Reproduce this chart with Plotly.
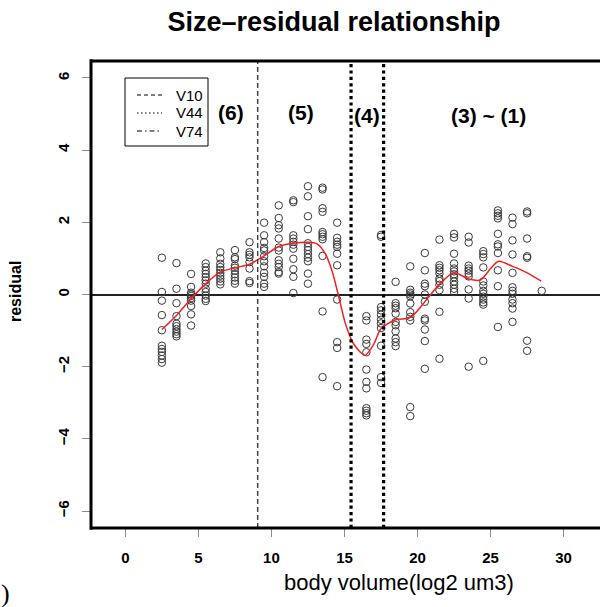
import plotly.graph_objects as go

# ---------------- data ----------------
bin_centers = [2.5, 3.5, 4.5, 5.5, 6.5, 7.5, 8.5, 9.5, 10.5, 11.5, 12.5, 13.5, 14.5,
               16.5, 17.5, 18.5, 19.5, 20.5, 21.5, 22.5, 23.5, 24.5, 25.5, 26.5, 27.5, 28.5]
residuals = [
    [1.02, 0.07, -0.17, -0.57, -0.99, -1.42, -1.51, -1.59, -1.69, -1.79, -1.89],
    [0.87, 0.16, -0.24, -0.6, -0.81, -0.88, -0.96, -1.03, -1.10, -1.16],
    [0.57, 0.21, 0.05, 0.0, -0.04, -0.1, -0.17, -0.32, -0.55, -0.86],
    [0.86, 0.76, 0.66, 0.57, 0.48, 0.39, 0.3, 0.16, 0.07, -0.03, -0.12, -0.18],
    [1.17, 1.0, 0.85, 0.76, 0.68, 0.6, 0.52, 0.44, 0.36, 0.28],
    [1.23, 1.03, 0.98, 0.8, 0.74, 0.66, 0.56, 0.47, 0.38, 0.3],
    [1.45, 1.17, 1.1, 1.03, 0.9, 0.72, 0.37, 0.32],
    [1.99, 1.64, 1.45, 1.29, 1.22, 1.06, 0.92, 0.78, 0.6, 0.49, 0.3, 0.21],
    [2.47, 2.12, 1.92, 1.83, 1.55, 1.3, 1.22, 0.95, 0.85, 0.76, 0.62, 0.58],
    [2.61, 2.56, 1.64, 1.55, 1.46, 1.38, 1.27, 0.99, 0.7, 0.49, 0.04],
    [3.0, 2.72, 2.17, 1.81, 1.42, 1.32, 1.23, 1.12, 1.02, 0.92, 0.58, 0.3],
    [2.96, 2.91, 2.39, 2.29, 1.73, 1.67, 1.6, 1.53, 1.07, -0.47, -2.29],
    [1.99, 1.57, 1.46, 1.38, 1.32, 1.13, 0.81, -0.14, -1.32, -1.48, -2.54],
    [-0.6, -0.72, -1.25, -1.37, -1.6, -2.08, -2.42, -2.6, -3.15, -3.22, -3.29, -3.35],
    [1.65, 1.6, -0.35, -0.44, -0.56, -0.7, -0.8, -0.93, -1.42, -2.29, -2.45],
    [0.35, -0.24, -0.31, -0.38, -0.53, -0.76, -0.85, -1.02, -1.22, -1.32, -1.43],
    [0.78, 0.13, 0.05, 0.0, -0.05, -0.25, -0.49, -0.62, -0.72, -3.12, -3.37],
    [1.15, 0.67, 0.3, 0.23, 0.0, -0.2, -0.67, -0.72, -0.97, -1.29, -2.06],
    [1.52, 0.81, 0.74, 0.67, 0.58, 0.44, 0.37, 0.27, 0.12, -0.48, -1.78],
    [1.68, 1.58, 1.13, 0.86, 0.72, 0.64, 0.56, 0.48, 0.36, 0.27, 0.16, 0.07],
    [1.6, 1.44, 0.8, 0.72, 0.66, 0.58, 0.5, 0.14, -0.11, -2.0],
    [1.2, 1.12, 1.03, 0.75, 0.36, 0.25, 0.1, 0.02, -0.06, -0.14, -0.22, -0.28, -1.84],
    [2.33, 2.25, 2.18, 2.11, 1.68, 1.39, 1.33, 1.15, 0.67, 0.23, -0.9],
    [2.13, 1.95, 1.5, 1.11, 0.6, 0.2, 0.1, 0.02, -0.14, -0.24, -0.39, -0.76],
    [2.3, 2.25, 1.55, 1.06, 1.02, -1.28, -1.56],
    [0.1],
]
loess_x = [2.5, 3.5, 4.5, 5.5, 6.5, 7.5, 8.5, 9.5, 10.5, 11.5, 12.5, 13.1, 13.7, 14.15,
           14.6, 15.06, 15.6, 16.4, 17.0, 17.5, 18.5, 19.5, 20.5, 21.5, 22.5, 23.5,
           24.3, 25.0, 25.55, 26.5, 27.4, 28.47]
loess_y = [-0.97, -0.58, -0.12, 0.3, 0.62, 0.74, 0.84, 1.07, 1.33, 1.42, 1.45, 1.41, 1.12,
           0.65, -0.05, -0.8, -1.35, -1.68, -1.38, -0.95, -0.7, -0.64, -0.2, 0.28, 0.6,
           0.43, 0.4, 0.72, 0.92, 0.78, 0.62, 0.37]
threshold_x = [9.06, 15.45, 17.68]
threshold_names = ["V10", "V44", "V74"]
region_labels = ["(6)", "(5)", "(4)", "(3) ~ (1)"]
x_ticks = [0, 5, 10, 15, 20, 25, 30]
y_ticks = [-6, -4, -2, 0, 2, 4, 6]

# ---------------- layout geometry ----------------
W, H = 600, 607
L, R, T, B = 91, 600, 61, 528
X0, X1 = -2.35, 32.49
Y0, Y1 = -6.47, 6.47
FONT = "Liberation Sans, Arial, Helvetica, sans-serif"


def px(xp, yp):
    return (xp - L) / (R - L), (B - yp) / (B - T)


pts_x = [c for c, ys in zip(bin_centers, residuals) for _ in ys]
pts_y = [v for ys in residuals for v in ys]

fig = go.Figure()
fig.add_trace(go.Scatter(
    x=pts_x, y=pts_y, mode="markers",
    marker=dict(symbol="circle-open", size=7.5, color="#3a3a3a", line=dict(width=1)),
    showlegend=False, hoverinfo="skip"))
fig.add_trace(go.Scatter(
    x=loess_x, y=loess_y, mode="lines", line=dict(color="#f22020", width=1.5, shape="spline", smoothing=0.8),
    showlegend=False, hoverinfo="skip"))

styles = [dict(color="#333333", width=1.3, dash="5px,3px"),
          dict(color="black", width=3.2, dash="dot"),
          dict(color="black", width=3.2, dash="dot")]
for xv, st in zip(threshold_x, styles):
    fig.add_shape(type="line", xref="x", yref="paper", x0=xv, x1=xv, y0=0, y1=1, line=st, layer="above")

# box (left, top, bottom)
for (a, b, c, d) in [(0, -0.004, 0, 1.004), (0, 1, 1.01, 1), (0, 0, 1.01, 0)]:
    fig.add_shape(type="line", xref="paper", yref="paper", x0=a, y0=b, x1=c, y1=d,
                  line=dict(color="black", width=3), layer="above")

# legend box
lx0, ly0 = px(125, 146)
lx1, ly1 = px(208, 78)
fig.add_shape(type="rect", xref="paper", yref="paper", x0=lx0, y0=ly0, x1=lx1, y1=ly1,
              line=dict(color="black", width=1), fillcolor="white", layer="above")
leg_dash = ["4px,3px", "1.5px,2.5px", "5px,3px,1.5px,3px"]
for i, (nm, dsh) in enumerate(zip(threshold_names, leg_dash)):
    yy = 95 + 18 * i
    sx0, sy = px(137, yy)
    sx1, _ = px(162, yy)
    fig.add_shape(type="line", xref="paper", yref="paper", x0=sx0, x1=sx1, y0=sy, y1=sy,
                  line=dict(color="black", width=1, dash=dsh), layer="above")
    tx, ty = px(174, yy)
    fig.add_annotation(x=tx, y=ty, xref="paper", yref="paper", text=nm, showarrow=False,
                       xanchor="left", yanchor="middle", font=dict(family=FONT, size=15, color="black"))

# region labels
for lab, (cx, cy) in zip(region_labels, [(230.7, 113), (300.7, 113), (366.7, 115), (488, 115)]):
    ax, ay = px(cx, cy)
    fig.add_annotation(x=ax, y=ay, xref="paper", yref="paper", text=f"<b>{lab}</b>", showarrow=False,
                       xanchor="center", yanchor="middle", font=dict(family=FONT, size=21, color="black"))

# axis titles
ax, ay = px(399, 582)
fig.add_annotation(x=ax, y=ay, xref="paper", yref="paper", text="body volume(log2 um3)", showarrow=False,
                   xanchor="center", yanchor="middle", font=dict(family=FONT, size=22, color="black"))
ax, ay = px(15, 292)
fig.add_annotation(x=ax, y=ay, xref="paper", yref="paper", text="<b>residual</b>", showarrow=False,
                   textangle=-90, xanchor="center", yanchor="middle", font=dict(family=FONT, size=16, color="black"))
ax, ay = px(5, 593)
fig.add_annotation(x=ax, y=ay, xref="paper", yref="paper", text=")", showarrow=False,
                   xanchor="center", yanchor="middle", font=dict(family="Liberation Serif, serif", size=26, color="black"))

fig.update_layout(
    width=W, height=H,
    margin=dict(l=L, r=W - R, t=T, b=H - B, pad=0),
    plot_bgcolor="white", paper_bgcolor="white",
    title=dict(text="<b>Size\u2013residual relationship</b>", x=334 / W, y=1 - 22 / H,
               xanchor="center", yanchor="middle", xref="container", yref="container",
               font=dict(family=FONT, size=27, color="black")),
    showlegend=False,
    xaxis=dict(range=[X0, X1], tickvals=x_ticks, ticktext=[f"<b>{t}</b>" for t in x_ticks],
               ticks="outside", ticklen=8, tickcolor="#8c8c8c", tickwidth=1,
               showgrid=False, zeroline=False, showline=False,
               tickfont=dict(family=FONT, size=15, color="black"), ticklabelstandoff=8),
    yaxis=dict(range=[Y0, Y1], tickvals=y_ticks,
               ticktext=[f"<b>{t}</b>".replace("-", "\u2212") for t in y_ticks],
               tickangle=-90, ticks="outside", ticklen=8, tickcolor="#8c8c8c", tickwidth=1,
               showgrid=False, zeroline=True, zerolinecolor="#222222", zerolinewidth=1.6, showline=False,
               tickfont=dict(family=FONT, size=15, color="black"), ticklabelstandoff=7),
)

fig.write_html("out.html", config={"displayModeBar": False},
               post_script="document.body.style.margin='0px';document.body.style.padding='0px';")
